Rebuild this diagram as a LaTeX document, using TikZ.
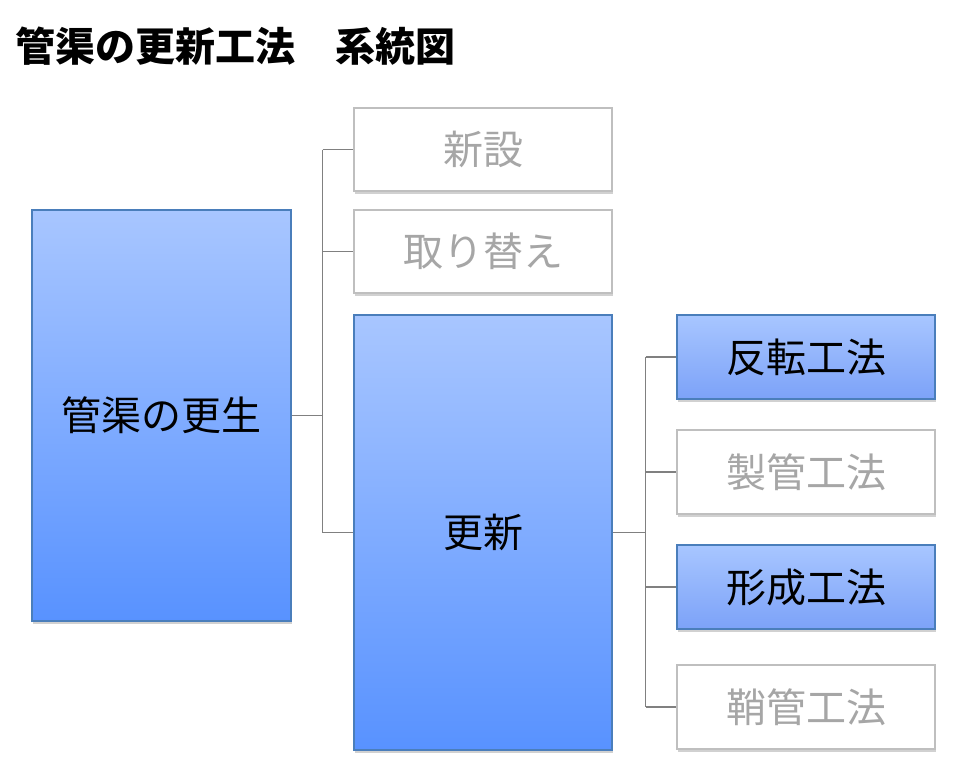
\documentclass[tikz,border=0pt]{standalone}
\usepackage{fontspec}
\usepackage{tikz}
\usetikzlibrary{shadows}
\newfontfamily\jpfont{Noto Sans CJK JP}

\definecolor{boxedge}{HTML}{4A7EBB}
\definecolor{bluetop}{HTML}{A8C6FF}
\definecolor{bluebot}{HTML}{5892FF}
\definecolor{bluemid}{HTML}{7CA2F8}
\definecolor{grayedge}{HTML}{BFBFBF}
\definecolor{graytext}{HTML}{A6A6A6}
\definecolor{linkgray}{HTML}{808080}

\tikzset{
  box/.style={minimum width=258pt, inner sep=0pt, line width=1.2pt,
    font=\jpfont\fontsize{40}{42}\selectfont,
    drop shadow={shadow xshift=1pt, shadow yshift=-2.5pt, opacity=0.3, fill=black!60}},
  bigbox/.style={box, draw=boxedge, top color=bluetop, bottom color=bluebot, text=black},
  litebox/.style={box, minimum height=84pt, draw=boxedge, top color=bluetop, bottom color=bluemid, text=black},
  greybox/.style={box, minimum height=83pt, draw=grayedge, fill=white, text=graytext},
  link/.style={draw=linkgray, line width=1.5pt}
}

\begin{document}
\begin{tikzpicture}[x=1pt, y=-1pt]

\useasboundingbox (0,0) rectangle (963,779);

\node[anchor=base west, font=\jpfont\bfseries\fontsize{40}{44}\selectfont] (title) at (12,61) {管渠の更新工法　系統図};

\node[bigbox, minimum width=259pt, minimum height=411pt] (kousei) at (161.5,415.5) {管渠の更生};

\node[greybox] (shinsetsu) at (483,149.5) {新設};
\node[greybox] (torikae) at (483,251.5) {取り替え};
\node[bigbox, minimum height=435pt] (koushin) at (483,532.5) {更新};

\node[litebox] (hanten) at (806,357) {反転工法};
\node[greybox, minimum height=84pt] (seikan) at (806,472) {製管工法};
\node[litebox] (keisei) at (806,587) {形成工法};
\node[greybox, minimum height=84pt] (sayakan) at (806,707) {鞘管工法};

\begin{scope}[link]
\draw (kousei.east) -- ++(31,0) coordinate (busA);
\draw (busA |- shinsetsu.west) -- (busA |- koushin.west);
\draw (busA |- shinsetsu.west) -- (shinsetsu.west);
\draw (busA |- torikae.west) -- (torikae.west);
\draw (busA |- koushin.west) -- (koushin.west);

\draw (koushin.east) -- ++(33,0) coordinate (busB);
\draw (busB |- hanten.west) -- (busB |- sayakan.west);
\draw (busB |- hanten.west) -- (hanten.west);
\draw (busB |- seikan.west) -- (seikan.west);
\draw (busB |- keisei.west) -- (keisei.west);
\draw (busB |- sayakan.west) -- (sayakan.west);
\end{scope}

\end{tikzpicture}
\end{document}
